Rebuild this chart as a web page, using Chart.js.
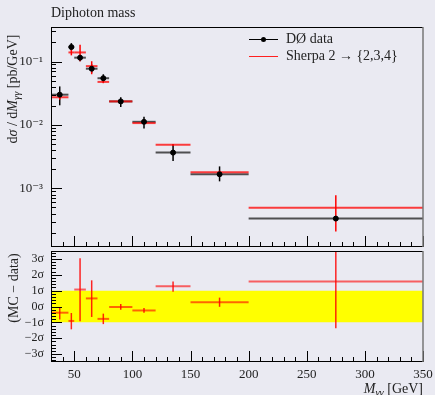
<!DOCTYPE html>
<html>
<head>
<meta charset="utf-8">
<script src="https://cdn.jsdelivr.net/npm/chart.js@4/dist/chart.umd.min.js"></script>
<style>
body { margin: 0; background: #eaeaf2; font-family: "Liberation Serif", "DejaVu Serif", serif; color: #222; }
#wrap { position: relative; width: 435px; height: 395px; overflow: hidden; }
canvas { position: absolute; left: 0; }
#top { top: 0; }
#bottom { top: 250px; }
.txt { position: absolute; white-space: nowrap; line-height: 1; }
.rot { position: absolute; white-space: nowrap; line-height: 1; transform: translate(-50%, -50%) rotate(-90deg); }
.line { position: absolute; height: 1.5px; }
sub { font-size: 75%; vertical-align: -0.25em; }
</style>
</head>
<body>
<div id="wrap">
  <canvas id="top" width="435" height="252"></canvas>
  <canvas id="bottom" width="435" height="145"></canvas>

  <div class="txt" style="left:51px;top:6px;font-size:14px">Diphoton mass</div>
  <div class="rot" style="left:14px;top:89px;font-size:14px">d<i>σ</i> / d<i>M</i><sub><i>γγ</i></sub> [pb/GeV]</div>
  <div class="rot" style="left:14px;top:288px;font-size:14px">(MC − data)</div>
  <div class="txt" style="right:12px;top:382px;font-size:14px"><i>M</i><sub><i>γγ</i></sub> [GeV]</div>

  <div class="line" style="left:249px;top:38.5px;width:29px;background:#000"></div>
  <div style="position:absolute;left:261px;top:36.5px;width:5px;height:5px;border-radius:50%;background:#000"></div>
  <div class="txt" style="left:286px;top:32px;font-size:14px">DØ data</div>
  <div class="line" style="left:249px;top:55.5px;width:29px;background:#ff2020"></div>
  <div class="txt" style="left:286px;top:49px;font-size:14px">Sherpa 2 → {2,3,4}</div>
</div>

<script>
// bins in M_gg [GeV]
const binLo = [30, 45, 50, 60, 70, 80, 100, 120, 150, 200];
const binHi = [45, 50, 60, 70, 80, 100, 120, 150, 200, 350];
const binMid = [37.5, 47.5, 55, 65, 75, 90, 110, 135, 175, 275];

// D0 data, dsigma/dM [pb/GeV]
const dataVal = [0.030, 0.169, 0.115, 0.077, 0.0545, 0.0235, 0.0112, 0.00366, 0.00167, 0.000334];
const dataHi = [0.0405, 0.195, 0.128, 0.0899, 0.0629, 0.0273, 0.0134, 0.0049, 0.00222, 0.00036];
const dataLo = [0.0204, 0.150, 0.101, 0.0668, 0.0467, 0.0191, 0.0088, 0.0027, 0.00129, 0.00031];

// Sherpa 2 -> {2,3,4}
const mcVal = [0.0273, 0.139, 0.139, 0.0846, 0.0477, 0.0235, 0.0107, 0.00486, 0.00179, 0.000495];
const mcHi = [0.030, 0.160, 0.183, 0.101, 0.050, 0.0245, 0.0111, 0.0050, 0.00190, 0.00078];
const mcLo = [0.025, 0.125, 0.101, 0.063, 0.0455, 0.0225, 0.0103, 0.0047, 0.00170, 0.000208];

// (MC - data) in units of sigma
const pullVal = [-0.39, -0.91, 1.07, 0.51, -0.78, -0.03, -0.25, 1.27, 0.27, 1.58];
const pullHi = [-0.04, -0.41, 3.04, 1.65, -0.45, 0.15, -0.09, 1.58, 0.56, 4.5];
const pullLo = [-0.82, -1.44, -0.93, -0.66, -1.11, -0.20, -0.40, 0.93, -0.02, -1.375];

// yellow 1 sigma band
const bandX = [30, 350];
const bandHi = [1, 1];
const bandLo = -1;

// axes
const xMin = 30, xMax = 350;
const xTicks = [50, 100, 150, 200, 250, 300, 350];
const yMin = 1.19e-4, yMax = 0.35;
const yTicks = [1e-3, 1e-2, 1e-1];
const yTickLabels = ['10⁻³', '10⁻²', '10⁻¹'];
const sigMin = -3.5, sigMax = 3.5;
const sigTicks = [-3, -2, -1, 0, 1, 2, 3];
const sigTickLabels = ['−3σ', '−2σ', '−1σ', '0σ', '1σ', '2σ', '3σ'];

const fontFam = '"Liberation Serif", "DejaVu Serif", serif';

function line(ctx, x1, y1, x2, y2) {
    ctx.beginPath();
    ctx.moveTo(x1, y1);
    ctx.lineTo(x2, y2);
    ctx.stroke();
}

// tick marks inside the frame + frame itself
function drawFrame(chart, yMinor) {
    const ctx = chart.ctx;
    const a = chart.chartArea;
    const sx = chart.scales.x, sy = chart.scales.y;
    ctx.save();
    ctx.strokeStyle = '#000';
    ctx.lineWidth = 1;
    // x ticks along the bottom, every 10 GeV
    for (let v = 30; v <= 350; v += 10) {
        const px = Math.round(sx.getPixelForValue(v)) + 0.5;
        const len = v % 50 === 0 ? 11 : 5;
        line(ctx, px, a.bottom, px, a.bottom - len);
    }
    // y ticks along the left
    yMinor.forEach(t => {
        const py = Math.round(sy.getPixelForValue(t.v)) + 0.5;
        line(ctx, a.left, py, a.left + (t.major ? 11 : 5), py);
    });
    line(ctx, a.left + 0.5, a.top, a.left + 0.5, a.bottom);
    line(ctx, a.left, a.top + 0.5, a.right, a.top + 0.5);
    line(ctx, a.left, a.bottom - 0.5, a.right, a.bottom - 0.5);
    ctx.strokeStyle = '#777';
    ctx.lineWidth = 1.5;
    line(ctx, a.right, a.top, a.right, a.bottom);
    ctx.restore();
}

function logTicks() {
    const out = [];
    for (let e = -4; e <= 0; e++) {
        for (let m = 1; m <= 9; m++) {
            const v = m * Math.pow(10, e);
            if (v >= yMin && v <= yMax) out.push({ v: v, major: m === 1 });
        }
    }
    return out;
}

function sigmaTicks() {
    const out = [];
    for (let i = -17; i <= 17; i++) {
        out.push({ v: i * 0.2, major: i % 5 === 0 });
    }
    return out;
}

function crosses(chart, vals, his, los, hColor, vColor, hWidth) {
    const ctx = chart.ctx;
    const a = chart.chartArea;
    const sx = chart.scales.x, sy = chart.scales.y;
    ctx.save();
    ctx.beginPath();
    ctx.rect(a.left, a.top, a.right - a.left, a.bottom - a.top);
    ctx.clip();
    for (let i = 0; i < vals.length; i++) {
        const x1 = sx.getPixelForValue(binLo[i]);
        const x2 = sx.getPixelForValue(binHi[i]);
        const xm = sx.getPixelForValue(binMid[i]);
        const y = sy.getPixelForValue(vals[i]);
        ctx.strokeStyle = hColor;
        ctx.lineWidth = hWidth;
        line(ctx, x1, y, x2, y);
        ctx.strokeStyle = vColor;
        ctx.lineWidth = 1.5;
        line(ctx, xm, sy.getPixelForValue(his[i]), xm, sy.getPixelForValue(los[i]));
    }
    ctx.restore();
}

const topPlugin = {
    id: 'topPanel',
    beforeDatasetsDraw(chart) {
        crosses(chart, dataVal, dataHi, dataLo, 'rgba(40,40,40,0.8)', '#000', 2);
        crosses(chart, mcVal, mcHi, mcLo, 'rgba(255,0,0,0.75)', '#ff0000', 2);
    },
    afterDraw(chart) {
        drawFrame(chart, logTicks());
    }
};

const bottomPlugin = {
    id: 'bottomPanel',
    afterDatasetsDraw(chart) {
        crosses(chart, pullVal, pullHi, pullLo, 'rgba(255,0,0,0.6)', 'rgba(255,0,0,0.85)', 2);
    },
    afterDraw(chart) {
        drawFrame(chart, sigmaTicks());
    }
};

const tickFont = { family: fontFam, size: 13 };

new Chart(document.getElementById('top'), {
    type: 'scatter',
    data: {
        datasets: [{
            label: 'DØ data',
            data: binMid.map((x, i) => ({ x: x, y: dataVal[i] })),
            pointRadius: 2.5,
            backgroundColor: '#000',
            borderColor: '#000'
        }]
    },
    options: {
        responsive: false,
        animation: false,
        layout: { padding: { left: 0, right: 12, top: 27, bottom: 1 } },
        plugins: { legend: { display: false }, tooltip: { enabled: false } },
        scales: {
            x: {
                type: 'linear', min: xMin, max: xMax,
                grid: { display: false, drawTicks: false },
                border: { display: false },
                ticks: { display: false },
                afterFit(s) { s.height = 0; s.paddingLeft = 0; s.paddingRight = 0; }
            },
            y: {
                type: 'logarithmic', min: yMin, max: yMax,
                grid: { display: false, drawTicks: false },
                border: { display: false },
                afterBuildTicks(s) { s.ticks = yTicks.map(v => ({ value: v })); },
                ticks: {
                    padding: 8, font: tickFont, color: '#222', autoSkip: false,
                    callback: (v) => yTickLabels[yTicks.findIndex(t => Math.abs(Math.log10(t) - Math.log10(v)) < 1e-6)] || ''
                },
                afterFit(s) { s.width = 51; s.paddingTop = 0; s.paddingBottom = 0; }
            }
        }
    },
    plugins: [topPlugin]
});

new Chart(document.getElementById('bottom'), {
    type: 'line',
    data: {
        datasets: [{
            label: 'band',
            data: bandX.map((x, i) => ({ x: x, y: bandHi[i] })),
            borderWidth: 0,
            pointRadius: 0,
            backgroundColor: '#ffff00',
            fill: { value: bandLo }
        }, {
            label: 'zero',
            data: bandX.map(x => ({ x: x, y: 0 })),
            borderColor: '#222',
            borderWidth: 1.5,
            pointRadius: 0,
            fill: false
        }]
    },
    options: {
        responsive: false,
        animation: false,
        layout: { padding: { left: 0, right: 12, top: 1, bottom: 0 } },
        plugins: { legend: { display: false }, tooltip: { enabled: false } },
        scales: {
            x: {
                type: 'linear', min: xMin, max: xMax,
                grid: { display: false, drawTicks: false },
                border: { display: false },
                afterBuildTicks(s) { s.ticks = xTicks.map(v => ({ value: v })); },
                ticks: { padding: 5, font: tickFont, color: '#222', maxRotation: 0, autoSkip: false, callback: v => String(v) },
                afterFit(s) { s.height = 33; s.paddingLeft = 0; s.paddingRight = 0; }
            },
            y: {
                type: 'linear', min: sigMin, max: sigMax,
                grid: { display: false, drawTicks: false },
                border: { display: false },
                afterBuildTicks(s) { s.ticks = sigTicks.map(v => ({ value: v })); },
                ticks: {
                    padding: 7, font: { family: fontFam, size: 12 }, color: '#222', autoSkip: false,
                    callback: v => sigTickLabels[sigTicks.indexOf(v)]
                },
                afterFit(s) { s.width = 51; s.paddingTop = 0; s.paddingBottom = 0; }
            }
        }
    },
    plugins: [bottomPlugin]
});
</script>
</body>
</html>
